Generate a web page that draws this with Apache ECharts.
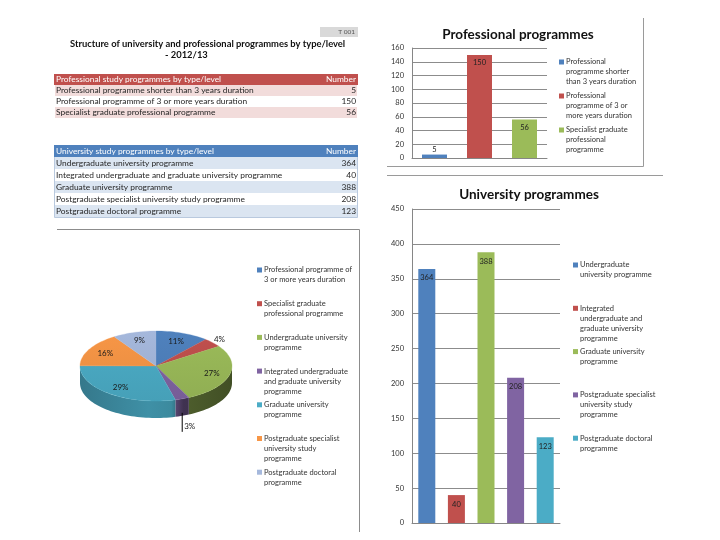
<!DOCTYPE html>
<html><head><meta charset="utf-8">
<script src="https://cdn.jsdelivr.net/npm/echarts@6/dist/echarts.min.js"></script>
<style>html,body{margin:0;padding:0;background:#fff}#c{width:720px;height:540px}</style>
</head><body><div id="c"></div>
<script>
// ---------- data ----------
const tableTitle = ['Structure of university and professional programmes by type/level', '- 2012/13'];
const tableCode = 'T 001';
const profHeader = ['Professional study programmes by type/level', 'Number'];
const profNames = ['Professional programme shorter than 3 years duration', 'Professional programme of 3 or more years duration', 'Specialist graduate professional programme'];
const profValues = [5, 150, 56];
const profLegend = ['Professional\nprogramme shorter\nthan 3 years duration', 'Professional\nprogramme of 3 or\nmore years duration', 'Specialist graduate\nprofessional\nprogramme'];
const profTicks = [0, 20, 40, 60, 80, 100, 120, 140, 160];

const uniHeader = ['University study programmes by type/level', 'Number'];
const uniNames = ['Undergraduate university programme', 'Integrated undergraduate and graduate university programme', 'Graduate university programme', 'Postgraduate specialist university study programme', 'Postgraduate doctoral programme'];
const uniValues = [364, 40, 388, 208, 123];
const uniLegend = ['Undergraduate\nuniversity programme', 'Integrated\nundergraduate and\ngraduate university\nprogramme', 'Graduate university\nprogramme', 'Postgraduate specialist\nuniversity study\nprogramme', 'Postgraduate doctoral\nprogramme'];
const uniTicks = [0, 50, 100, 150, 200, 250, 300, 350, 400, 450];

const pieNames = ['Professional programme of 3 or more years duration', 'Specialist graduate professional programme', 'Undergraduate university programme', 'Integrated undergraduate and graduate university programme', 'Graduate university programme', 'Postgraduate specialist university study programme', 'Postgraduate doctoral programme'];
const pieValues = [150, 56, 364, 40, 388, 208, 123];
const pieLegend = ['Professional programme of\n3 or more years duration', 'Specialist graduate\nprofessional programme', 'Undergraduate university\nprogramme', 'Integrated undergraduate\nand graduate university\nprogramme', 'Graduate university\nprogramme', 'Postgraduate specialist\nuniversity study\nprogramme', 'Postgraduate doctoral\nprogramme'];

// ---------- style ----------
const FONT = 'Lato, "Liberation Sans", sans-serif';
const TXT = '#262626';
const profColors = ['#4F81BD', '#C0504D', '#9BBB59'];
const uniColors = ['#4F81BD', '#C0504D', '#9BBB59', '#8064A2', '#4BACC6'];
const pieColors = ['#4F81BD', '#C0504D', '#9BBB59', '#8064A2', '#4BACC6', '#F79646', '#A5B8DC'];

function shade(hex, k) {
  const n = parseInt(hex.slice(1), 16);
  const r = Math.round(((n >> 16) & 255) * k), g = Math.round(((n >> 8) & 255) * k), b = Math.round((n & 255) * k);
  return 'rgb(' + r + ',' + g + ',' + b + ')';
}
function T(x, y, t, o) {
  return { type: 'text', x: x, y: y, silent: true, z: 10,
    style: Object.assign({ text: t, fontFamily: FONT, fontSize: 8, fill: TXT, verticalAlign: 'middle', align: 'left' }, o || {}) };
}
function R(x, y, w, h, fill, stroke) {
  return { type: 'rect', silent: true, shape: { x: x, y: y, width: w, height: h },
    style: { fill: fill, stroke: stroke || null, lineWidth: stroke ? 1 : 0 } };
}
function L(x1, y1, x2, y2, c) {
  return { type: 'line', silent: true, shape: { x1: x1, y1: y1, x2: x2, y2: y2 }, style: { stroke: c || '#8C8C8C', lineWidth: 1 } };
}
function table(x0, x1, y0, rowH, header, names, values, headFill, bandFill, border) {
  const els = [];
  const w = x1 - x0;
  const fs = { fontSize: 8.4 };
  if (border) els.push(R(x0 + 0.5, y0 + 0.5, w - 1, rowH * (names.length + 1), '#fff', border));
  els.push(R(x0, y0, w, rowH, headFill));
  els.push(T(x0 + 2, y0 + rowH / 2, header[0], Object.assign({ fill: '#fff' }, fs)));
  els.push(T(x1 - 2, y0 + rowH / 2, header[1], Object.assign({ fill: '#fff', align: 'right' }, fs)));
  names.forEach(function (n, i) {
    const y = y0 + rowH * (i + 1);
    if (i % 2 === 0) els.push(R(x0 + 1, y, w - 2, rowH, bandFill));
    els.push(T(x0 + 2, y + rowH / 2, n, fs));
    els.push(T(x1 - 2, y + rowH / 2, String(values[i]), Object.assign({ align: 'right' }, fs)));
  });
  return els;
}
function legend(x, y0, step, labels, colors) {
  const els = [];
  labels.forEach(function (lab, i) {
    const y = y0 + i * step;
    els.push(R(x, y - 2.5, 5, 5, colors[i]));
    els.push(T(x + 7, y - 5, lab, { verticalAlign: 'top', fontSize: 7.5, lineHeight: 10, fill: '#333' }));
  });
  return els;
}

// ---------- 3D pie geometry ----------
const PIE = { cx: 156, cy: 366, rx: 76, ry: 35, depth: 17 };
function pt(f, k, dy) {
  const t = f * 2 * Math.PI;
  return [PIE.cx + PIE.rx * k * Math.sin(t), PIE.cy - PIE.ry * k * Math.cos(t) + (dy || 0)];
}
function arc(a, b, k, dy) {
  const pts = [];
  const n = Math.max(2, Math.ceil((b - a) * 160));
  for (let j = 0; j <= n; j++) pts.push(pt(a + (b - a) * j / n, k, dy));
  return pts;
}
const pieTotal = pieValues.reduce(function (a, b) { return a + b; }, 0);

function renderPie(params, api) {
  const i = params.dataIndex;
  let f0 = 0;
  for (let k = 0; k < i; k++) f0 += pieValues[k] / pieTotal;
  const v = api.value(0);
  const f1 = f0 + v / pieTotal;
  const color = pieColors[i];
  const children = [];
  const a = Math.max(f0, 0.25), b = Math.min(f1, 0.75);
  if (b > a) {
    const top = arc(a, b, 1, 0);
    const bot = arc(a, b, 1, PIE.depth).reverse();
    const x0 = PIE.cx - PIE.rx, x1 = PIE.cx + PIE.rx;
    children.push({ type: 'polygon', shape: { points: top.concat(bot) },
      style: { fill: new echarts.graphic.LinearGradient(x0, 0, x1, 0, [
        { offset: 0, color: shade(color, 0.7) },
        { offset: 0.45, color: shade(color, 0.84) },
        { offset: 0.6, color: shade(color, 0.8) },
        { offset: 0.68, color: shade(color, 0.5) },
        { offset: 1, color: shade(color, 0.42) }], true) } });
  }
  children.push({ type: 'polygon', shape: { points: [[PIE.cx, PIE.cy]].concat(arc(f0, f1, 1, 0)) },
    style: { fill: new echarts.graphic.LinearGradient(0, PIE.cy - PIE.ry, 0, PIE.cy + PIE.ry, [
        { offset: 0, color: color }, { offset: 1, color: shade(color, 0.93) }], true),
      stroke: color, lineWidth: 0.3 } });
  const pct = Math.round(v / pieTotal * 100) + '%';
  const mid = (f0 + f1) / 2;
  const labStyle = { fontSize: 8, fill: '#1a1a1a' };
  if (v / pieTotal < 0.035) {
    const p = pt(mid, 1, PIE.depth);
    children.push(L(p[0], p[1] - 3, p[0], p[1] + 16, '#000'));
    children.push(T(p[0] + 2, p[1] + 11, pct, labStyle));
  } else if (v / pieTotal < 0.06) {
    const p = pt(mid, 1.12, 0);
    children.push(T(p[0], p[1], pct, Object.assign({ align: 'center' }, labStyle)));
  } else {
    const p = pt(mid, 0.76, 0);
    children.push(T(p[0], p[1], pct, Object.assign({ align: 'center' }, labStyle)));
  }
  return { type: 'group', children: children };
}

// ---------- graphics ----------
let graphics = [];
graphics.push(R(320, 27, 38, 10, '#D9D9D9'));
graphics.push(T(355, 32, tableCode, { align: 'right', fontSize: 6.5, fill: '#555' }));
graphics.push(T(70, 44, tableTitle[0], { fontWeight: 'bold', fontSize: 9.4, fill: '#111' }));
graphics.push(T(165, 55, tableTitle[1], { fontWeight: 'bold', fontSize: 9.4, fill: '#111' }));
graphics = graphics.concat(table(54, 358, 74, 11, profHeader, profNames, profValues, '#C0504D', '#F2DCDB', null));
graphics = graphics.concat(table(54, 358, 145, 12, uniHeader, uniNames, uniValues, '#4F81BD', '#DBE5F1', '#B9C9DE'));
graphics.push(L(57, 229.5, 359.5, 229.5, '#8C8C8C'));
graphics.push(L(359.5, 229.5, 359.5, 532, '#8C8C8C'));
graphics.push(L(643.5, 18, 643.5, 166.5, '#9A9A9A'));
graphics.push(L(387, 166.5, 643.5, 166.5, '#9A9A9A'));
graphics.push(L(387, 175.5, 663, 175.5, '#9A9A9A'));
graphics = graphics.concat(legend(257, 270, 33.7, pieLegend, pieColors));
graphics = graphics.concat(legend(559, 62, 34, profLegend, profColors));
graphics = graphics.concat(legend(573, 265, 43.3, uniLegend, uniColors));

function yAxisFor(idx, ticks) {
  return { gridIndex: idx, type: 'value', min: ticks[0], max: ticks[ticks.length - 1], interval: ticks[1] - ticks[0],
    axisLine: { show: true, lineStyle: { color: '#868686' } }, axisTick: { show: false },
    axisLabel: { fontSize: 7.5, color: '#333', margin: 8, fontFamily: FONT },
    splitLine: { lineStyle: { color: '#8C8C8C', width: 1 } } };
}
function xAxisFor(idx, names) {
  return { gridIndex: idx, type: 'category', data: names,
    axisLine: { lineStyle: { color: '#868686' } }, axisTick: { show: false }, axisLabel: { show: false } };
}
function barData(values, colors, minInside) {
  return values.map(function (v, i) {
    const d = { value: v, itemStyle: { color: colors[i] } };
    if (v < minInside) d.label = { position: 'top', distance: 1 };
    return d;
  });
}

const chart = echarts.init(document.getElementById('c'), null, { renderer: 'canvas' });
chart.setOption({
  animation: false,
  backgroundColor: '#fff',
  textStyle: { fontFamily: FONT },
  title: [
    { text: 'Professional programmes', left: 513, top: 23, textAlign: 'center',
      textStyle: { fontSize: 13.5, fontWeight: 'bold', color: '#111', fontFamily: FONT } },
    { text: 'University programmes', left: 524, top: 183, textAlign: 'center',
      textStyle: { fontSize: 13.5, fontWeight: 'bold', color: '#111', fontFamily: FONT } }
  ],
  grid: [
    { left: 412, top: 48, width: 135, height: 110 },
    { left: 412, top: 209, width: 148, height: 314 }
  ],
  xAxis: [xAxisFor(0, profNames), xAxisFor(1, uniNames)],
  yAxis: [yAxisFor(0, profTicks), yAxisFor(1, uniTicks)],
  series: [
    { type: 'bar', name: 'Professional programmes', xAxisIndex: 0, yAxisIndex: 0, barWidth: 25,
      data: barData(profValues, profColors, 20),
      label: { show: true, position: 'insideTop', distance: 4, fontSize: 7.5, color: '#222', fontFamily: FONT } },
    { type: 'bar', name: 'University programmes', xAxisIndex: 1, yAxisIndex: 1, barWidth: 17,
      data: barData(uniValues, uniColors, 0),
      label: { show: true, position: 'insideTop', distance: 5, fontSize: 7.5, color: '#222', fontFamily: FONT } },
    { type: 'custom', name: 'Programmes by type', coordinateSystem: 'none', silent: true,
      data: pieValues.map(function (v, i) { return { name: pieNames[i], value: [v] }; }),
      renderItem: renderPie }
  ],
  graphic: graphics
});
</script>
</body></html>
